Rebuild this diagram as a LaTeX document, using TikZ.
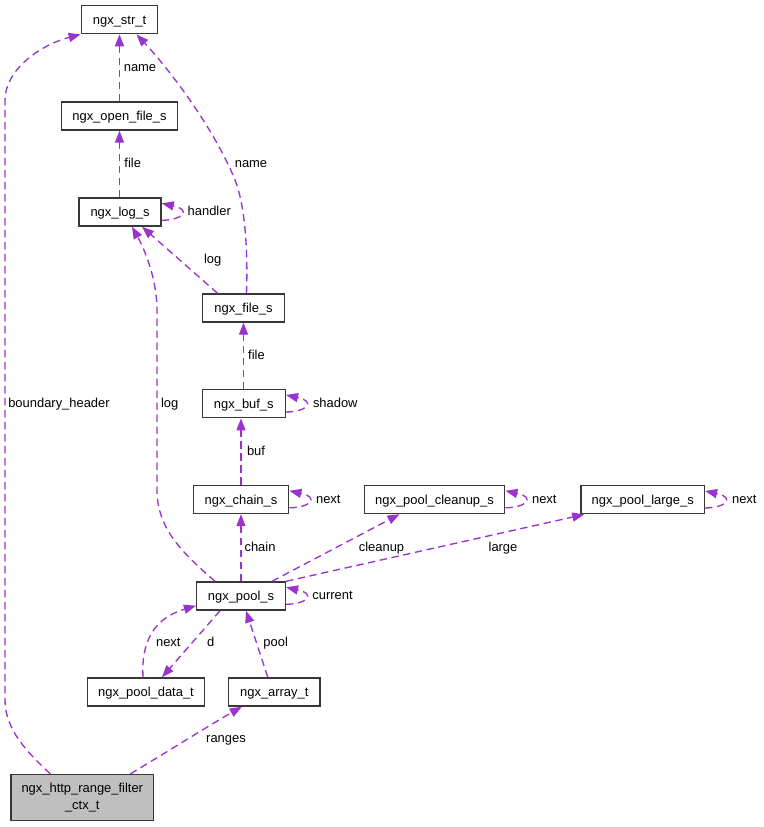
\documentclass[tikz,border=0pt]{standalone}
\usepackage{fontspec}
\setmainfont{Liberation Sans}
\usetikzlibrary{arrows.meta,calc}
\definecolor{edgec}{HTML}{9A32CD}
\definecolor{boxc}{HTML}{383838}
\definecolor{ctxfill}{HTML}{BFBFBF}
\newcommand\myloop[1]{\draw[edge] ($(#1.north east)+(0,23)$) .. controls +(20,0) and +(31,7) .. ($(#1.north east)+(0,6)$);}
\begin{document}
\begin{tikzpicture}[x=0.75pt,y=-0.75pt,
  txt/.style={font=\fontsize{9.7}{12.5}\selectfont, text height=8.4pt, text depth=1.6pt},
  box/.style={txt, draw=boxc, line width=1.1pt, inner sep=0pt, minimum height=21pt, fill=white},
  lbl/.style={txt, inner sep=0pt},
  edge/.style={draw=edgec, line width=1pt, dash pattern=on 5.5pt off 3.5pt,
    -{Triangle[length=9pt,width=6.8pt]}}]
\useasboundingbox (0,0) rectangle (763,827);
% nodes
\node[box, minimum width=57.2pt] (str) at (119.5,19.7) {ngx\_str\_t};
\node[box, minimum width=87.2pt] (openf) at (119.5,116) {ngx\_open\_file\_s};
\node[box, minimum width=61.5pt] (log) at (120,212) {ngx\_log\_s};
\node[box, minimum width=61.5pt] (file) at (243.5,308) {ngx\_file\_s};
\node[box, minimum width=62.25pt] (buf) at (243.8,403.7) {ngx\_buf\_s};
\node[box, minimum width=71.5pt] (chain) at (241,499.5) {ngx\_chain\_s};
\node[box, minimum width=105.3pt] (clean) at (434.5,499.5) {ngx\_pool\_cleanup\_s};
\node[box, minimum width=92.5pt] (large) at (642.7,499.7) {ngx\_pool\_large\_s};
\node[box, minimum width=66.5pt] (pool) at (241,596) {ngx\_pool\_s};
\node[box, minimum width=88pt] (pdata) at (146,692) {ngx\_pool\_data\_t};
\node[box, minimum width=68.5pt] (array) at (274.3,692) {ngx\_array\_t};
\node[box, fill=ctxfill, minimum width=107pt, minimum height=34.3pt, align=center, text height=, text depth=] (ctx) at (82.3,797.5) {ngx\_http\_range\_filter\\\_ctx\_t};
% edges
\draw[edge] (openf.north) -- (str.south);
\draw[edge] (openf.south |- log.north) -- (openf.south);
\myloop{log}
\draw[edge] ($(file.north)+(-26,0)$) -- ($(log.south)+(22,0)$);
\draw[edge] ($(file.north)+(3,0)$) .. controls (248,250) and (245,205) .. (235,180) .. controls (215,130) and (170,70) .. ($(str.south)+(17,0)$);
\draw[edge] (file.south |- buf.north) -- (file.south);
\myloop{buf}
\draw[edge] (chain.north) -- (chain.north |- buf.south);
\myloop{chain}
\myloop{clean}
\myloop{large}
\draw[edge] (pool.north) -- (chain.south);
\draw[edge] ($(pool.north)+(31,0)$) -- ($(clean.south)+(-35,0)$);
\draw[edge] (pool.north east) -- ($(large.south west)+(4,0)$);
\myloop{pool}
\draw[edge] ($(pool.north)+(-26,0)$) .. controls (185,555) and (157,530) .. (157,490) -- (157,310) .. controls (157,280) and (145,250) .. ($(log.south)+(12,0)$);
\draw[edge] ($(pdata.north)+(-3,0)$) .. controls (141,640) and (155,618) .. ($(pool.south west)+(0,-5)$);
\draw[edge] ($(pool.south)+(-21,0)$) -- ($(pdata.north)+(16,0)$);
\draw[edge] ($(array.north)+(-6.5,0)$) -- ($(pool.south)+(5,0)$);
\draw[edge] ($(ctx.north)+(48,0)$) .. controls (170,750) and (215,722) .. ($(array.south)+(-32.5,0)$);
\draw[edge] ($(ctx.north)+(-32,0)$) .. controls (28,753) and (5,730) .. (5,700) -- (5,100) .. controls (5,70) and (40,45) .. (str.south west);
% labels
\node[lbl] (l1) at (140,67) {name};
\node[lbl] (l2) at (132.7,163) {file};
\node[lbl] (l3) at (251,163) {name};
\node[lbl] (l4) at (209.3,211) {handler};
\node[lbl] (l5) at (212.7,259) {log};
\node[lbl] (l6) at (256.5,355) {file};
\node[lbl] (l7) at (169.7,403) {log};
\node[lbl] (l8) at (335.3,403) {shadow};
\node[lbl] (l9) at (59,403) {boundary\_header};
\node[lbl] (l10) at (256,451) {buf};
\node[lbl] (l11) at (328.3,499) {next};
\node[lbl] (l12) at (544.3,499) {next};
\node[lbl] (l13) at (744.3,499) {next};
\node[lbl] (l14) at (260,547) {chain};
\node[lbl] (l15) at (381.5,547) {cleanup};
\node[lbl] (l16) at (503,547) {large};
\node[lbl] (l17) at (332.5,595) {current};
\node[lbl] (l18) at (168.3,642) {next};
\node[lbl] (l19) at (210.7,642) {d};
\node[lbl] (l20) at (275.7,642) {pool};
\node[lbl] (l21) at (226,738) {ranges};
\end{tikzpicture}
\end{document}
